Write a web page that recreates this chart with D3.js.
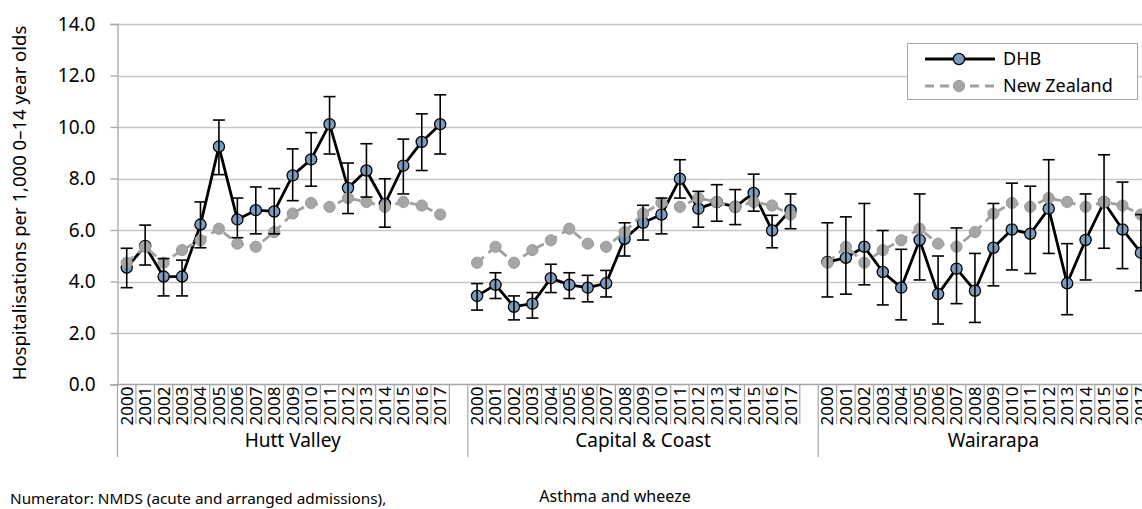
<!DOCTYPE html>
<html>
<head>
<meta charset="utf-8">
<script src="https://cdn.jsdelivr.net/npm/d3@7"></script>
<style>
  html, body { margin: 0; padding: 0; background: #fff; }
  svg { display: block; font-family: "Noto Sans", "Open Sans", sans-serif; }
</style>
</head>
<body>
<svg id="chart" width="1142" height="509"></svg>
<script>
// ---------- data ----------
const years = ["2000","2001","2002","2003","2004","2005","2006","2007","2008","2009","2010","2011","2012","2013","2014","2015","2016","2017"];
const groups = ["Hutt Valley", "Capital & Coast", "Wairarapa"];
const yTicks = [0, 2, 4, 6, 8, 10, 12, 14];

const nzRate = [4.73,5.35,4.73,5.22,5.60,6.05,5.47,5.35,5.92,6.64,7.05,6.90,7.24,7.09,6.90,7.09,6.95,6.60];

const huttRate  = [4.54,5.38,4.19,4.19,6.21,9.24,6.41,6.77,6.72,8.12,8.74,10.11,7.63,8.31,7.01,8.50,9.42,10.11];
const huttLower = [3.76,4.64,3.44,3.44,5.31,8.15,5.70,5.85,5.85,7.14,7.70,8.95,6.64,7.28,6.11,7.40,8.31,8.95];
const huttUpper = [5.29,6.19,4.89,4.83,7.09,10.27,7.24,7.67,7.61,9.15,9.78,11.18,8.60,9.35,7.99,9.53,10.51,11.25];

const ccRate  = [3.44,3.87,3.02,3.14,4.13,3.87,3.76,3.93,5.66,6.28,6.60,7.99,6.83,7.08,6.90,7.44,5.98,6.77];
const ccLower = [2.89,3.34,2.51,2.58,3.57,3.34,3.21,3.40,4.99,5.61,5.85,7.24,6.11,6.34,6.21,6.73,5.31,6.05];
const ccUpper = [3.92,4.34,3.44,3.57,4.67,4.34,4.24,4.43,6.28,6.96,7.24,8.73,7.50,7.76,7.57,8.17,6.57,7.40];

const wairRate  = [4.76,4.92,5.35,4.37,3.76,5.61,3.51,4.50,3.64,5.31,6.02,5.85,6.83,3.93,5.61,7.08,6.02,5.12];
const wairLower = [3.40,3.51,3.87,3.09,2.51,4.06,2.35,3.14,2.41,3.83,4.45,4.31,5.09,2.71,4.06,5.29,4.50,3.64];
const wairUpper = [6.28,6.51,7.03,5.98,5.25,7.40,4.99,6.08,5.09,7.03,7.82,7.70,8.73,5.47,7.40,8.92,7.86,6.60];

const dhbRates = [huttRate, ccRate, wairRate];
const dhbLower = [huttLower, ccLower, wairLower];
const dhbUpper = [huttUpper, ccUpper, wairUpper];

const yTitle = "Hospitalisations per 1,000 0\u201314 year olds";
const chartTitle = "Asthma and wheeze";
const footnote = "Numerator: NMDS (acute and arranged admissions),";

// ---------- layout ----------
const svg = d3.select("#chart");
const FONT = 19;
const plotLeft = 117.5, plotTop = 24, plotBottom = 384.5;
const slotW = 18.44;
const slotsPerGroup = years.length + 1;
const plotRight = plotLeft + slotW * slotsPerGroup * groups.length;

// slot keys: each group has 18 years plus a trailing blank slot
const slotKeys = [];
groups.forEach((g, gi) => {
  years.forEach(yr => slotKeys.push(g + "|" + yr));
  slotKeys.push(g + "|blank");
});

const x = d3.scaleBand().domain(slotKeys).range([plotLeft, plotRight]).padding(0);
const xc = (g, yr) => x(g + "|" + yr) + x.bandwidth() / 2;
const y = d3.scaleLinear().domain([0, 14]).range([plotBottom, plotTop]);

// gridlines
svg.append("g").selectAll("line").data(yTicks.filter(d => d > 0)).join("line")
  .attr("x1", plotLeft).attr("x2", plotRight)
  .attr("y1", d => Math.round(y(d)) + 0.5).attr("y2", d => Math.round(y(d)) + 0.5)
  .attr("stroke", "#c6c6c6").attr("stroke-width", 1.3);

// y axis
const yAxis = d3.axisLeft(y).tickValues(yTicks).tickFormat(d3.format(".1f")).tickSizeOuter(0).tickSize(7).tickPadding(15);
const yg = svg.append("g").attr("transform", `translate(${plotLeft},0)`).call(yAxis);
yg.select(".domain").attr("stroke", "#a6a6a6").attr("stroke-width", 1.3);
yg.selectAll(".tick line").attr("stroke", "#a6a6a6").attr("stroke-width", 1.3);
yg.selectAll(".tick text").attr("font-size", FONT).attr("fill", "#000").attr("font-family", "Noto Sans");

// x axis line
svg.append("line").attr("x1", plotLeft).attr("x2", plotRight)
  .attr("y1", plotBottom).attr("y2", plotBottom)
  .attr("stroke", "#a6a6a6").attr("stroke-width", 1.3);

// year tick separators and labels
const tickEnd = 424, sepEnd = 457;
const xg = svg.append("g");
groups.forEach((g, gi) => {
  years.forEach((yr, i) => {
    const bx = x(g + "|" + yr);
    if (i > 0) {
      xg.append("line").attr("x1", bx).attr("x2", bx)
        .attr("y1", plotBottom).attr("y2", tickEnd)
        .attr("stroke", "#a6a6a6").attr("stroke-width", 1.2);
    }
    xg.append("text")
      .attr("transform", `translate(${xc(g, yr)},${plotBottom + 2}) rotate(-90)`)
      .attr("text-anchor", "end").attr("dy", "0.35em")
      .attr("font-size", 17).attr("fill", "#000")
      .text(yr);
  });
  const lastEnd = x(g + "|" + years[years.length - 1]) + x.bandwidth();
  xg.append("line").attr("x1", lastEnd).attr("x2", lastEnd)
    .attr("y1", plotBottom).attr("y2", tickEnd)
    .attr("stroke", "#a6a6a6").attr("stroke-width", 1.2);
  // group separator
  const gStart = x(g + "|" + years[0]);
  xg.append("line").attr("x1", gStart).attr("x2", gStart)
    .attr("y1", plotBottom).attr("y2", sepEnd)
    .attr("stroke", "#a6a6a6").attr("stroke-width", 1.2);
  const gEnd = x(g + "|blank") + x.bandwidth();
  xg.append("text")
    .attr("x", (gStart + gEnd) / 2).attr("y", 447)
    .attr("text-anchor", "middle").attr("font-size", FONT).attr("fill", "#000")
    .text(g);
});

// y title
svg.append("text")
  .attr("transform", `translate(26,${203}) rotate(-90)`)
  .attr("text-anchor", "middle").attr("font-size", 18.5).attr("fill", "#000")
  .text(yTitle);

// bottom texts
svg.append("text").attr("x", 615).attr("y", 502).attr("text-anchor", "middle")
  .attr("font-size", 16).attr("fill", "#000").text(chartTitle);
svg.append("text").attr("x", 10).attr("y", 504)
  .attr("font-size", 15.3).attr("fill", "#000").text(footnote);

// ---------- series ----------
const DHB_FILL = "#7b9dc2", NZ_FILL = "#a6a6a6", NZ_LINE = "#a0a0a0";
const R = 5.6;
const line = d3.line().x(d => d.x).y(d => d.y);

const marks = svg.append("g");
groups.forEach((g, gi) => {
  const dhbPts = years.map((yr, i) => ({ x: xc(g, yr), y: y(dhbRates[gi][i]) }));
  marks.append("path").attr("d", line(dhbPts)).attr("fill", "none")
    .attr("stroke", "#000").attr("stroke-width", 2.8).attr("stroke-linejoin", "round");
  marks.append("g").selectAll("circle").data(dhbPts).join("circle")
    .attr("cx", d => d.x).attr("cy", d => d.y).attr("r", R)
    .attr("fill", DHB_FILL).attr("stroke", "#000").attr("stroke-width", 1.3);
});
groups.forEach((g, gi) => {
  const nzPts = years.map((yr, i) => ({ x: xc(g, yr), y: y(nzRate[i]) }));
  marks.append("path").attr("d", line(nzPts)).attr("fill", "none")
    .attr("stroke", NZ_LINE).attr("stroke-width", 2.8).attr("stroke-dasharray", "9,6");
  marks.append("g").selectAll("circle").data(nzPts).join("circle")
    .attr("cx", d => d.x).attr("cy", d => d.y).attr("r", R)
    .attr("fill", NZ_FILL).attr("stroke", "#9a9a9a").attr("stroke-width", 1);
});
// error bars
groups.forEach((g, gi) => {
  const eb = marks.append("g").attr("stroke", "#000").attr("stroke-width", 1.6);
  years.forEach((yr, i) => {
    const cx = xc(g, yr), lo = y(dhbLower[gi][i]), hi = y(dhbUpper[gi][i]);
    eb.append("line").attr("x1", cx).attr("x2", cx).attr("y1", lo).attr("y2", hi);
    eb.append("line").attr("x1", cx - 6).attr("x2", cx + 6).attr("y1", lo).attr("y2", lo);
    eb.append("line").attr("x1", cx - 6).attr("x2", cx + 6).attr("y1", hi).attr("y2", hi);
  });
});

// ---------- legend ----------
const lg = svg.append("g");
lg.append("rect").attr("x", 907.5).attr("y", 43.5).attr("width", 230).attr("height", 56)
  .attr("fill", "#fff").attr("stroke", "#a6a6a6").attr("stroke-width", 1);
lg.append("line").attr("x1", 925).attr("x2", 995).attr("y1", 59).attr("y2", 59)
  .attr("stroke", "#000").attr("stroke-width", 2.8);
lg.append("circle").attr("cx", 959).attr("cy", 59).attr("r", R)
  .attr("fill", DHB_FILL).attr("stroke", "#000").attr("stroke-width", 1.3);
lg.append("text").attr("x", 1003).attr("y", 59).attr("dy", "0.35em")
  .attr("font-size", 18).attr("fill", "#000").text("DHB");
lg.append("line").attr("x1", 925).attr("x2", 995).attr("y1", 86).attr("y2", 86)
  .attr("stroke", NZ_LINE).attr("stroke-width", 2.8).attr("stroke-dasharray", "9,6");
lg.append("circle").attr("cx", 959).attr("cy", 86).attr("r", R)
  .attr("fill", NZ_FILL).attr("stroke", "#9a9a9a").attr("stroke-width", 1);
lg.append("text").attr("x", 1003).attr("y", 86).attr("dy", "0.35em")
  .attr("font-size", 18).attr("fill", "#000").text("New Zealand");
</script>
</body>
</html>
